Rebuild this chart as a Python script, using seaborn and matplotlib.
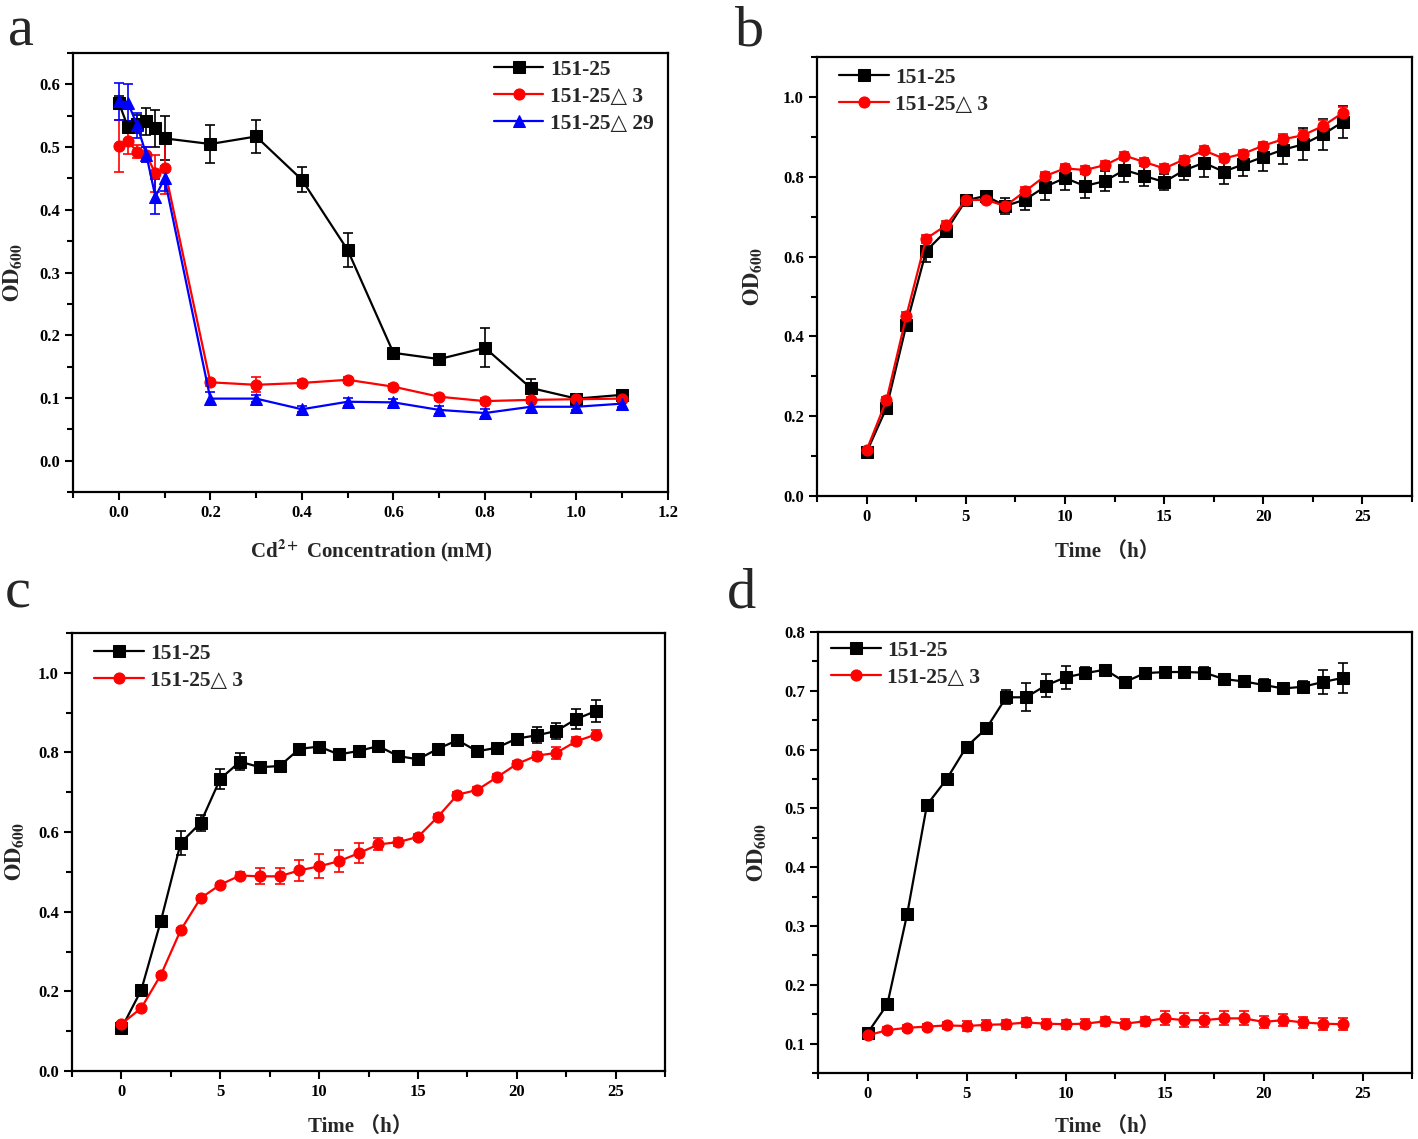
import numpy as np
import pandas as pd
import matplotlib
matplotlib.use('Agg')
import matplotlib.pyplot as plt
from matplotlib.ticker import MultipleLocator, FormatStrFormatter
import seaborn as sns

sns.set_theme(style='ticks')
plt.rcParams['font.family'] = ['Liberation Serif', 'DejaVu Serif', 'Noto Sans CJK SC']
plt.rcParams['font.weight'] = 'bold'
plt.rcParams['mathtext.fontset'] = 'stix'

# ---- panel a: OD600 vs Cd2+ concentration
cd_conc = [0.0, 0.02, 0.04, 0.06, 0.08, 0.1, 0.2, 0.3, 0.4, 0.5, 0.6, 0.7, 0.8, 0.9, 1.0, 1.1]
a_wt = [0.571, 0.532, 0.537, 0.541, 0.530, 0.514, 0.505, 0.517, 0.448, 0.336, 0.172, 0.162, 0.180, 0.116, 0.099, 0.105]
a_wt_err = [0.01, 0.01, 0.015, 0.022, 0.03, 0.035, 0.03, 0.027, 0.02, 0.027, 0.005, 0.005, 0.031, 0.015, 0.005, 0.005]
a_d3 = [0.502, 0.509, 0.493, 0.488, 0.458, 0.466, 0.125, 0.121, 0.124, 0.129, 0.118, 0.102, 0.095, 0.097, 0.098, 0.099]
a_d3_err = [0.041, 0.02, 0.01, 0.012, 0.03, 0.04, 0.006, 0.012, 0.005, 0.005, 0.005, 0.005, 0.005, 0.005, 0.005, 0.005]
a_d29 = [0.573, 0.571, 0.535, 0.488, 0.421, 0.450, 0.099, 0.099, 0.082, 0.094, 0.093, 0.081, 0.076, 0.086, 0.086, 0.091]
a_d29_err = [0.03, 0.03, 0.02, 0.012, 0.028, 0.02, 0.01, 0.006, 0.005, 0.006, 0.005, 0.006, 0.006, 0.006, 0.005, 0.005]

# ---- panels b, c, d: growth curves (0-24 h)
hours = list(range(25))
b_wt = [0.110, 0.221, 0.428, 0.614, 0.664, 0.741, 0.752, 0.727, 0.743, 0.775, 0.797, 0.777, 0.789, 0.817,
        0.802, 0.787, 0.816, 0.835, 0.813, 0.831, 0.850, 0.868, 0.881, 0.906, 0.937]
b_wt_err = [0.005, 0.005, 0.015, 0.028, 0.01, 0.012, 0.005, 0.02, 0.025, 0.033, 0.03, 0.03, 0.025, 0.03,
            0.025, 0.02, 0.025, 0.035, 0.03, 0.03, 0.035, 0.035, 0.04, 0.04, 0.04]
b_d3 = [0.115, 0.240, 0.451, 0.645, 0.678, 0.742, 0.742, 0.727, 0.764, 0.802, 0.821, 0.817, 0.829, 0.853,
        0.837, 0.821, 0.843, 0.866, 0.846, 0.858, 0.878, 0.894, 0.904, 0.927, 0.960]
b_d3_err = [0.005, 0.008, 0.01, 0.01, 0.01, 0.01, 0.008, 0.01, 0.01, 0.01, 0.01, 0.01, 0.01, 0.01,
            0.01, 0.01, 0.01, 0.01, 0.01, 0.01, 0.01, 0.012, 0.012, 0.015, 0.015]

c_wt = [0.107, 0.203, 0.378, 0.573, 0.623, 0.734, 0.777, 0.763, 0.766, 0.809, 0.815, 0.795, 0.804, 0.816,
        0.791, 0.783, 0.809, 0.831, 0.803, 0.812, 0.835, 0.843, 0.854, 0.884, 0.904]
c_wt_err = [0.005, 0.005, 0.01, 0.03, 0.02, 0.025, 0.022, 0.008, 0.008, 0.008, 0.008, 0.008, 0.008, 0.008,
            0.008, 0.008, 0.008, 0.008, 0.008, 0.01, 0.012, 0.02, 0.02, 0.025, 0.028]
c_d3 = [0.118, 0.158, 0.242, 0.354, 0.434, 0.468, 0.491, 0.489, 0.489, 0.504, 0.514, 0.527, 0.547, 0.569,
        0.575, 0.588, 0.638, 0.694, 0.706, 0.738, 0.771, 0.792, 0.799, 0.828, 0.845]
c_d3_err = [0.005, 0.005, 0.005, 0.005, 0.005, 0.005, 0.008, 0.02, 0.02, 0.027, 0.03, 0.027, 0.025, 0.015,
            0.01, 0.008, 0.008, 0.008, 0.008, 0.008, 0.008, 0.01, 0.015, 0.01, 0.012]

d_wt = [0.118, 0.167, 0.320, 0.506, 0.550, 0.605, 0.636, 0.689, 0.689, 0.709, 0.723, 0.730, 0.736, 0.715,
        0.730, 0.732, 0.732, 0.731, 0.720, 0.716, 0.710, 0.704, 0.707, 0.715, 0.722]
d_wt_err = [0.005, 0.005, 0.005, 0.005, 0.005, 0.005, 0.008, 0.012, 0.024, 0.02, 0.02, 0.01, 0.005, 0.005,
            0.008, 0.008, 0.008, 0.01, 0.008, 0.008, 0.01, 0.01, 0.01, 0.02, 0.025]
d_d3 = [0.114, 0.123, 0.127, 0.129, 0.131, 0.130, 0.132, 0.133, 0.136, 0.134, 0.133, 0.134, 0.138, 0.134,
        0.138, 0.143, 0.140, 0.140, 0.143, 0.143, 0.137, 0.140, 0.136, 0.134, 0.133]
d_d3_err = [0.005, 0.005, 0.005, 0.005, 0.006, 0.008, 0.008, 0.008, 0.008, 0.008, 0.008, 0.008, 0.008, 0.008,
            0.008, 0.012, 0.012, 0.012, 0.012, 0.012, 0.01, 0.01, 0.01, 0.01, 0.01]

labels = ['151-25', '151-25\u25b3 3', '151-25\u25b3 29']
colors = ['black', '#ff0000', '#0000ff']
markers = ['s', 'o', '^']

ylab = r'$\mathbf{OD}_{\mathbf{600}}$'
time_lab = 'Time \uff08h\uff09'


def draw(ax, x, series, errs):
    for i, (y, e) in enumerate(zip(series, errs)):
        ax.errorbar(x, y, yerr=e, fmt='none', ecolor=colors[i], elinewidth=1.2,
                    capsize=3.5, capthick=1.2, zorder=2)
        df = pd.DataFrame({'x': x, 'y': y})
        sns.lineplot(data=df, x='x', y='y', ax=ax, color=colors[i], marker=markers[i],
                     markersize=8, markeredgecolor=colors[i], linewidth=1.6,
                     label=labels[i], sort=False, errorbar=None, zorder=3)


def style(ax):
    for s in ax.spines.values():
        s.set_linewidth(1.6)
        s.set_color('black')
    ax.tick_params(which='both', direction='out', width=1.5, colors='black',
                   labelsize=12, top=False, right=False)
    ax.tick_params(which='major', length=6)
    ax.tick_params(which='minor', length=4)
    for t in ax.get_xticklabels() + ax.get_yticklabels():
        t.set_fontweight('bold')


fig = plt.figure(figsize=(14.18, 11.39), dpi=100)
ax_a = fig.add_axes([0.0515, 0.568, 0.4196, 0.3854])
ax_b = fig.add_axes([0.5762, 0.5645, 0.4196, 0.3854])
ax_c = fig.add_axes([0.0508, 0.0597, 0.4182, 0.3845])
ax_d = fig.add_axes([0.5769, 0.0579, 0.4189, 0.3872])

draw(ax_a, cd_conc, [a_wt, a_d3, a_d29], [a_wt_err, a_d3_err, a_d29_err])
draw(ax_b, hours, [b_wt, b_d3], [b_wt_err, b_d3_err])
draw(ax_c, hours, [c_wt, c_d3], [c_wt_err, c_d3_err])
draw(ax_d, hours, [d_wt, d_d3], [d_wt_err, d_d3_err])

ax_a.set_xlim(-0.1, 1.2)
ax_a.set_ylim(-0.05, 0.65)
ax_a.xaxis.set_major_locator(MultipleLocator(0.2))
ax_a.xaxis.set_minor_locator(MultipleLocator(0.1))
ax_a.yaxis.set_major_locator(MultipleLocator(0.1))
ax_a.yaxis.set_minor_locator(MultipleLocator(0.05))
ax_a.xaxis.set_major_formatter(FormatStrFormatter('%.1f'))
ax_a.yaxis.set_major_formatter(FormatStrFormatter('%.1f'))
ax_a.set_xlabel(r'Cd$^{\mathbf{2+}}$ Concentration (mM)', fontsize=15, fontweight='bold')

for ax in (ax_b, ax_c, ax_d):
    ax.set_xlim(-2.5, 27.5)
    ax.xaxis.set_major_locator(MultipleLocator(5))
    ax.xaxis.set_minor_locator(MultipleLocator(2.5))
    ax.set_xlabel(time_lab, fontsize=15, fontweight='bold')
    ax.yaxis.set_major_formatter(FormatStrFormatter('%.1f'))

for ax in (ax_b, ax_c):
    ax.set_ylim(0, 1.1)
    ax.yaxis.set_major_locator(MultipleLocator(0.2))
    ax.yaxis.set_minor_locator(MultipleLocator(0.1))

ax_d.set_ylim(0.05, 0.8)
ax_d.yaxis.set_major_locator(MultipleLocator(0.1))
ax_d.yaxis.set_minor_locator(MultipleLocator(0.05))

for ax in (ax_a, ax_b, ax_c, ax_d):
    ax.set_ylabel(ylab, fontsize=16)
    style(ax)

ax_a.xaxis.set_label_coords(0.5, -0.105)
ax_b.xaxis.set_label_coords(0.487, -0.105)
ax_c.xaxis.set_label_coords(0.486, -0.105)
ax_d.xaxis.set_label_coords(0.487, -0.100)
ax_a.yaxis.set_label_coords(-0.083, 0.5)
ax_b.yaxis.set_label_coords(-0.09, 0.5)
ax_c.yaxis.set_label_coords(-0.078, 0.5)
ax_d.yaxis.set_label_coords(-0.085, 0.5)

leg_pos = {ax_a: (0.70, 0.995), ax_b: (0.03, 0.985), ax_c: (0.03, 0.985), ax_d: (0.015, 0.99)}
for ax, pos in leg_pos.items():
    ax.legend(loc='upper left', bbox_to_anchor=pos, frameon=False,
              handlelength=2.3, handletextpad=0.3, labelspacing=0.32,
              borderpad=0.2, borderaxespad=0,
              prop={'weight': 'bold', 'size': 15.5})

for lab, x, y in [('a', 8, 45), ('b', 735, 45), ('c', 5, 608), ('d', 727, 608)]:
    fig.text(x / 1418, 1 - y / 1139, lab, fontsize=42, fontweight='normal',
             va='baseline', ha='left')

fig.savefig('out.png', dpi=100)
